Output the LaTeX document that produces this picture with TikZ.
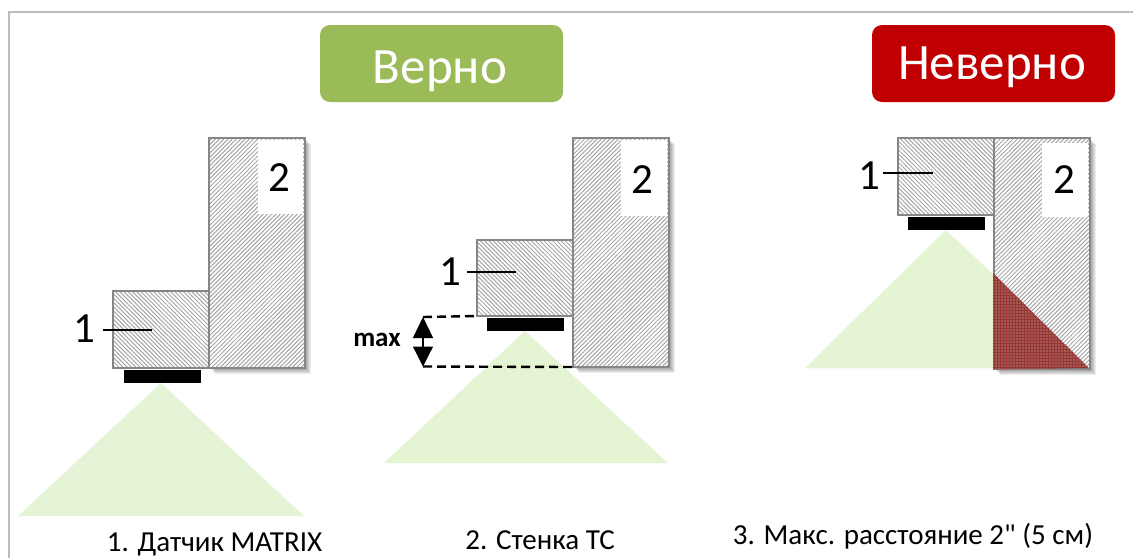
\documentclass[tikz,border=0pt]{standalone}
\usepackage{fontspec}
\setmainfont{Carlito}
\newfontfamily\plainquote[Ligatures=NoCommon]{Carlito}
\usetikzlibrary{patterns.meta,arrows.meta,calc}
\definecolor{edgegray}{HTML}{868686}
\definecolor{framegray}{HTML}{BDBDBD}
\definecolor{okgreen}{HTML}{9BBB59}
\definecolor{badred}{HTML}{C00000}
\definecolor{conefill}{HTML}{EEF7E4}
\definecolor{conedot}{HTML}{B4DE88}
\definecolor{overlapred}{HTML}{953735}
\tikzset{
  blockbox/.style={draw=edgegray,line width=1.8pt,inner sep=0pt,outer sep=0pt},
  hatchR/.style={pattern={Lines[angle=45,distance=3pt,line width=1pt]},pattern color=gray!70},
  hatchL/.style={pattern={Lines[angle=-45,distance=3pt,line width=1pt]},pattern color=gray!70},
  emitter/.style={fill=black,inner sep=0pt,outer sep=0pt,minimum width=77pt,minimum height=13pt},
  conedots/.style={pattern={Dots[distance=2pt,radius=0.5pt]},pattern color=conedot},
  patch/.style={fill=white,inner sep=0pt,outer sep=0pt},
  numlabel/.style={font=\fontsize{43}{43}\selectfont,inner sep=0pt},
  caption/.style={font=\fontsize{29}{29}\selectfont,inner sep=0pt,anchor=base},
  badge/.style={rounded corners=10pt,minimum width=243pt,minimum height=77pt,inner sep=0pt},
  badgetext/.style={text=white,font=\fontsize{51}{51}\selectfont,inner sep=0pt,anchor=base},
  leader/.style={line width=1.4pt,black},
  maxline/.style={line width=2.4pt,dash pattern=on 9pt off 5pt,black}
}
\newcommand{\softshadow}[4]{%
  \foreach \s in {6,5,4,3,2,1}{\fill[black,opacity=0.07] (#1+\s,#2+\s) rectangle (#3+\s,#4+\s);}}
\newcommand{\blockat}[6]{% name, x1,y1,x2,y2, hatch style
  \fill[white] (#2,#3) rectangle (#4,#5);
  \node[blockbox,#6,anchor=north west,minimum width=#4pt-#2pt,minimum height=#5pt-#3pt] (#1) at (#2,#3) {};}
\begin{document}
\begin{tikzpicture}[x=1pt,y=-1pt]
\useasboundingbox (0,0) rectangle (1133,558);
\fill[white] (0,0) rectangle (1133,558);
\draw[framegray,line width=1.2pt] (9,558) -- (9,12) -- (1133,12);
\node[badge,fill=okgreen] (ok) at (441.5,63.5) {};
\node[badgetext] (oktext) at (440,83) {Верно};
\node[badge,fill=badred] (bad) at (993.5,63.5) {};
\node[badgetext] (badtext) at (992,79) {Неверно};
% --- diagram 1
\softshadow{209}{138}{305}{368}
\fill[conefill] (161,383) -- (304,516) -- (18,516) -- cycle;
\fill[conedots] (161,383) -- (304,516) -- (18,516) -- cycle;
\blockat{wallA}{209}{138}{305}{368}{hatchR}
\blockat{sensA}{113}{291}{209}{368}{hatchL}
\node[emitter] (emitA) at (162,376.5) {};
\node[patch,minimum width=45pt,minimum height=74pt] (patchA) at (280.5,177) {};
\node[numlabel] (twoA) at (279,178) {2};
\node[numlabel] (oneA) at (84,329) {1};
\coordinate (leadA) at (152,330);
\draw[leader] (103,330) -- (leadA);
% --- diagram 2
\softshadow{573}{138}{669}{367}
\fill[conefill] (525,331) -- (668,463) -- (384,463) -- cycle;
\fill[conedots] (525,331) -- (668,463) -- (384,463) -- cycle;
\blockat{wallB}{573}{138}{669}{367}{hatchR}
\blockat{sensB}{477}{240}{573}{316}{hatchL}
\node[emitter] (emitB) at (525.5,324.5) {};
\node[patch,minimum width=46pt,minimum height=76pt] (patchB) at (644,178) {};
\node[numlabel] (twoB) at (642,180) {2};
\node[numlabel] (oneB) at (450,272) {1};
\coordinate (leadB) at (516,272);
\draw[leader] (467,272) -- (leadB);
\coordinate (maxTop) at (423,317);
\coordinate (maxBot) at (423,366.5);
\draw[maxline] (maxTop) -- (sensB.south west);
\draw[maxline] (maxBot) -- (wallB.south west);
\draw[line width=1.2pt,{Triangle[width=20pt,length=21pt]}-{Triangle[width=20pt,length=20pt]}] (maxTop) -- (maxBot);
\node[font=\fontsize{27}{27}\selectfont\bfseries,inner sep=0pt] (maxlab) at (377,340) {max};
% --- diagram 3
\softshadow{994}{138}{1090}{369}
\fill[conefill] (946,230) -- (994,275) -- (994,368) -- (805,368) -- cycle;
\fill[conedots] (946,230) -- (994,275) -- (994,368) -- (805,368) -- cycle;
\blockat{wallC}{994}{138}{1090}{369}{hatchR}
\blockat{sensC}{898}{138}{994}{215}{hatchL}
\fill[overlapred] (993,273) -- (1089,368) -- (993,369.5) -- cycle;
\fill[pattern={Dots[distance=3pt,radius=0.55pt]},pattern color=white!75!overlapred] (993,273) -- (1089,368) -- (993,369.5) -- cycle;
\node[emitter] (emitC) at (946.5,223.5) {};
\node[patch,minimum width=46pt,minimum height=74pt] (patchC) at (1065,180) {};
\node[numlabel] (twoC) at (1064,180) {2};
\node[numlabel] (oneC) at (869,176) {1};
\coordinate (leadC) at (933,173);
\draw[leader] (883,173) -- (leadC);
% --- captions
\node[caption] (capA) at (214.5,551) {1. Датчик MATRIX};
\node[caption] (capB) at (540,549) {2. Стенка ТС};
\node[caption] (capC) at (913,544) {3. Макс. расстояние 2{\plainquote"} (5 см)};
\end{tikzpicture}
\end{document}
